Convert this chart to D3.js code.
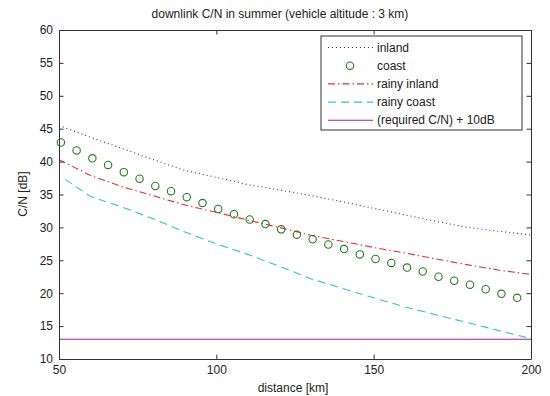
<!DOCTYPE html>
<html>
<head>
<meta charset="utf-8">
<script src="https://cdn.jsdelivr.net/npm/d3@7"></script>
<style>
body { margin: 0; background: #fff; }
text { font-family: Arial, "Liberation Sans", sans-serif; fill: #222; }
</style>
</head>
<body>
<svg width="550" height="396"></svg>
<script>
// data
var distKm = [50, 60, 70, 80, 90, 100, 110, 120, 130, 140, 150, 160, 170, 180, 190, 200];
var inland = [45.5, 43.7, 42.0, 40.3, 38.65, 37.6, 36.5, 35.7, 34.85, 33.9, 32.9, 31.9, 30.9, 30.0, 29.4, 28.85];
var rainyInland = [40.3, 37.9, 36.2, 34.8, 33.4, 32.3, 31.1, 30.0, 28.8, 27.9, 26.95, 26.1, 25.2, 24.3, 23.5, 22.85];
var rainyCoastKm = [52, 60, 70, 80, 90, 100, 110, 120, 130, 140, 150, 160, 170, 180, 190, 200];
var rainyCoast = [37.3, 34.7, 33.1, 31.3, 29.3, 27.5, 25.9, 24.1, 22.2, 20.75, 19.3, 17.9, 16.7, 15.5, 14.3, 13.1];
var coastKm = [50.6, 55.6, 60.6, 65.6, 70.6, 75.6, 80.6, 85.6, 90.6, 95.6, 100.6, 105.6, 110.6, 115.6, 120.6,
               125.6, 130.6, 135.6, 140.6, 145.6, 150.6, 155.6, 160.6, 165.6, 170.6, 175.6, 180.6, 185.6, 190.6, 195.6];
var coast = [42.9, 41.7, 40.5, 39.5, 38.4, 37.4, 36.3, 35.5, 34.6, 33.7, 32.8, 32.0, 31.2, 30.5, 29.7,
             28.9, 28.2, 27.4, 26.7, 25.9, 25.2, 24.6, 23.9, 23.3, 22.5, 21.9, 21.3, 20.6, 19.9, 19.3];
var requiredKm = [50, 200];
var required = [13, 13];
var xTicks = [50, 100, 150, 200];
var yTicks = [10, 15, 20, 25, 30, 35, 40, 45, 50, 55, 60];
var legendNames = ["inland", "coast", "rainy inland", "rainy coast", "(required C/N) + 10dB"];

var margin = {top: 30, right: 19, bottom: 37, left: 59};
var width = 550 - margin.left - margin.right;
var height = 396 - margin.top - margin.bottom;

var svg = d3.select('svg');
var g = svg.append('g')
    .attr('transform', 'translate(' + margin.left + ',' + margin.top + ')');

//Escalas
var xScale = d3.scaleLinear().domain([50, 200]).range([0, width]);
var yScale = d3.scaleLinear().domain([10, 60]).range([height, 0]);

// series
var series = [
    {name: legendNames[0], x: distKm, y: inland, color: '#2a2ad0', dash: '1,3'},
    {name: legendNames[2], x: distKm, y: rainyInland, color: '#e03030', dash: '7,3,1.5,3'},
    {name: legendNames[3], x: rainyCoastKm, y: rainyCoast, color: '#30c4d4', dash: '8,5'},
    {name: legendNames[4], x: requiredKm, y: required, color: '#a020a8', dash: null}
];

var line = d3.line()
    .x(d => xScale(d[0]))
    .y(d => yScale(d[1]));

series.forEach(function(s) {
    g.append('path')
        .datum(s.x.map((v, i) => [v, s.y[i]]))
        .attr('fill', 'none')
        .attr('stroke', s.color)
        .attr('stroke-width', 1.1)
        .attr('stroke-dasharray', s.dash)
        .attr('d', line);
});

g.selectAll('circle.coast')
    .data(coastKm.map((v, i) => [v, coast[i]]))
    .enter()
    .append('circle')
    .attr('class', 'coast')
    .attr('cx', d => xScale(d[0]))
    .attr('cy', d => yScale(d[1]))
    .attr('r', 3.7)
    .attr('fill', 'none')
    .attr('stroke', '#1f7f1f')
    .attr('stroke-width', 1.1);

// axes (box with inner ticks)
var axisColor = '#333';
var xAxis = g.append('g').attr('transform', 'translate(0,' + height + ')')
    .call(d3.axisBottom(xScale).tickValues(xTicks).tickSizeInner(-4.5).tickSizeOuter(0).tickPadding(6));
var yAxis = g.append('g')
    .call(d3.axisLeft(yScale).tickValues(yTicks).tickSizeInner(-4.5).tickSizeOuter(0).tickPadding(6));
var xTop = g.append('g')
    .call(d3.axisTop(xScale).tickValues(xTicks).tickSizeInner(-4.5).tickSizeOuter(0).tickFormat(''));
var yRight = g.append('g').attr('transform', 'translate(' + width + ',0)')
    .call(d3.axisRight(yScale).tickValues(yTicks).tickSizeInner(-4.5).tickSizeOuter(0).tickFormat(''));

[xAxis, yAxis, xTop, yRight].forEach(function(a) {
    a.selectAll('path').attr('stroke', axisColor);
    a.selectAll('line').attr('stroke', axisColor);
    a.selectAll('text').attr('font-size', 12).attr('font-family', 'Arial, "Liberation Sans", sans-serif').attr('fill', '#222');
});

// titles
svg.append('text')
    .attr('x', 280)
    .attr('y', 18)
    .attr('text-anchor', 'middle')
    .attr('font-size', 12)
    .text('downlink C/N in summer (vehicle altitude : 3 km)');

svg.append('text')
    .attr('x', 293)
    .attr('y', 392)
    .attr('text-anchor', 'middle')
    .attr('font-size', 12)
    .text('distance [km]');

svg.append('text')
    .attr('transform', 'translate(27,194) rotate(-90)')
    .attr('text-anchor', 'middle')
    .attr('font-size', 12)
    .text('C/N [dB]');

// legend
var legend = svg.append('g').attr('transform', 'translate(321,36)');
legend.append('rect')
    .attr('width', 201)
    .attr('height', 94)
    .attr('fill', '#fff')
    .attr('stroke', axisColor);

var legendItems = [
    {name: legendNames[0], color: '#2a2ad0', dash: '1,3'},
    {name: legendNames[1], color: '#1f7f1f', marker: true},
    {name: legendNames[2], color: '#e03030', dash: '7,3,1.5,3'},
    {name: legendNames[3], color: '#30c4d4', dash: '8,5'},
    {name: legendNames[4], color: '#a020a8', dash: null}
];

legendItems.forEach(function(item, i) {
    var yy = 11.5 + i * 18.2;
    if (item.marker) {
        legend.append('circle')
            .attr('cx', 29).attr('cy', yy).attr('r', 3.7)
            .attr('fill', 'none').attr('stroke', item.color).attr('stroke-width', 1.1);
    } else {
        legend.append('line')
            .attr('x1', 7).attr('x2', 52).attr('y1', yy).attr('y2', yy)
            .attr('stroke', item.color).attr('stroke-width', 1.1)
            .attr('stroke-dasharray', item.dash);
    }
    legend.append('text')
        .attr('x', 56)
        .attr('y', yy + 4)
        .attr('font-size', 12)
        .text(item.name);
});
</script>
</body>
</html>
